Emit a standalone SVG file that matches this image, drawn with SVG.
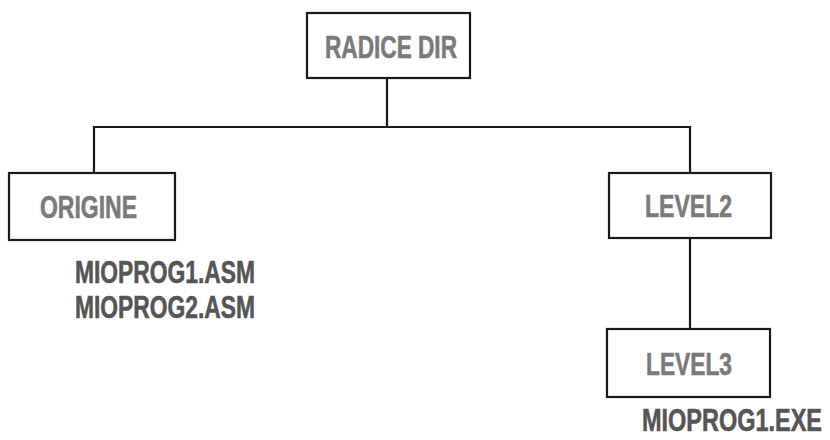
<svg xmlns="http://www.w3.org/2000/svg" width="830" height="440" viewBox="0 0 830 440">
<style>
.box{fill:#fff;stroke:#1a1a1a;stroke-width:2.2}
.lbl{font-family:"Liberation Sans",Arial,sans-serif;font-weight:bold;font-size:32px;fill:#7a7a7a;stroke:#7a7a7a;stroke-width:0.6}
.file{font-family:"Liberation Sans",Arial,sans-serif;font-weight:bold;font-size:32px;fill:#555;stroke:#555;stroke-width:0.6}
.conn{fill:none;stroke:#1a1a1a;stroke-width:2.2}
</style>
<rect width="830" height="440" fill="#fff"/>
<g id="connectors">
<path class="conn" d="M387 78 V127 M94 173 V127 H690 V173 M690 238 V329"/>
</g>
<g id="radice">
<rect class="box" x="307" y="13" width="163" height="65"/>
<text class="lbl" x="325" y="58" textLength="132" lengthAdjust="spacingAndGlyphs">RADICE DIR</text>
</g>
<g id="origine">
<rect class="box" x="9" y="173" width="166" height="67"/>
<text class="lbl" x="40" y="218" textLength="97" lengthAdjust="spacingAndGlyphs">ORIGINE</text>
<text class="file" x="75" y="283" textLength="180" lengthAdjust="spacingAndGlyphs">MIOPROG1.ASM</text>
<text class="file" x="75" y="318" textLength="180" lengthAdjust="spacingAndGlyphs">MIOPROG2.ASM</text>
</g>
<g id="level2">
<rect class="box" x="609" y="173" width="162" height="65"/>
<text class="lbl" x="645" y="217" textLength="87" lengthAdjust="spacingAndGlyphs">LEVEL2</text>
</g>
<g id="level3">
<rect class="box" x="607" y="329" width="163" height="68"/>
<text class="lbl" x="646" y="375" textLength="86" lengthAdjust="spacingAndGlyphs">LEVEL3</text>
<text class="file" x="822" y="431" font-size="30" text-anchor="end" textLength="180" lengthAdjust="spacingAndGlyphs">MIOPROG1.EXE</text>
</g>
</svg>
